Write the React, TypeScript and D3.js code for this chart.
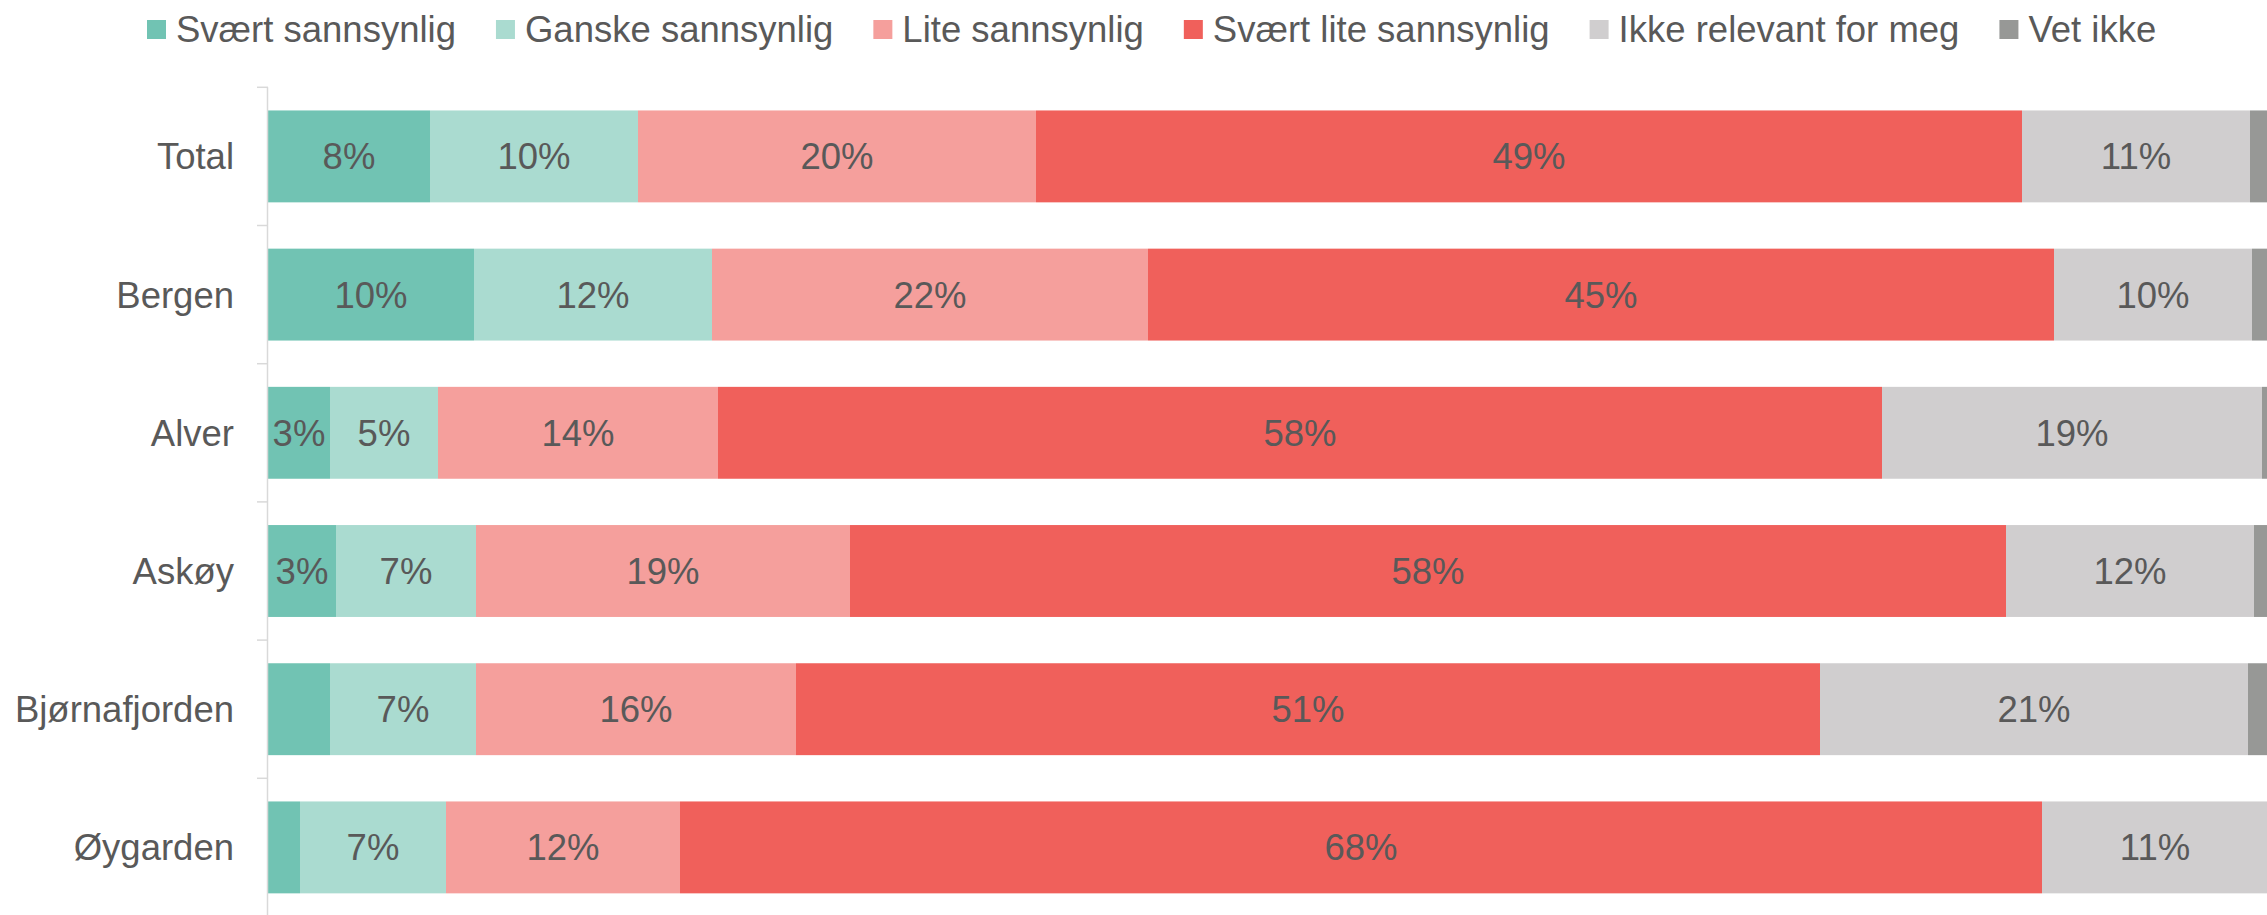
import React, { useEffect, useRef } from "react";
import * as d3 from "d3";

const categories = ["Total", "Bergen", "Alver", "Askøy", "Bjørnafjorden", "Øygarden"];
const seriesNames = [
  "Svært sannsynlig",
  "Ganske sannsynlig",
  "Lite sannsynlig",
  "Svært lite sannsynlig",
  "Ikke relevant for meg",
  "Vet ikke",
];
const seriesColors = ["#71C3B3", "#AADBD0", "#F59F9C", "#F0605B", "#D0CECF", "#979896"];

// values per series, in the order of categories
const sværtSannsynlig = [8.1, 10.3, 3.1, 3.4, 3.1, 1.6];
const ganskeSannsynlig = [10.4, 11.9, 5.4, 7.0, 7.3, 7.3];
const liteSannsynlig = [19.9, 21.8, 14.0, 18.7, 16.0, 11.7];
const sværtLiteSannsynlig = [49.3, 45.3, 58.2, 57.8, 51.2, 68.1];
const ikkeRelevant = [11.4, 9.9, 19.0, 12.4, 21.4, 11.3];
const vetIkke = [0.9, 0.8, 0.3, 0.7, 1.0, 0.0];

// labels hidden in the reference (small segments)
const hiddenLabels = [
  ["Bjørnafjorden", "Svært sannsynlig"],
  ["Øygarden", "Svært sannsynlig"],
];
const unlabelledSeries = ["Vet ikke"];

const xTicks = [0, 100];

export default function App() {
  const ref = useRef<SVGSVGElement | null>(null);

  useEffect(() => {
    const H = 915;
    const svg = d3.select(ref.current);
    svg.selectAll("*").remove();

    const font = "'Liberation Sans', Arial, sans-serif";
    const fs = 36.5;
    const textColor = "#595959";

    const seriesValues = [
      sværtSannsynlig,
      ganskeSannsynlig,
      liteSannsynlig,
      sværtLiteSannsynlig,
      ikkeRelevant,
      vetIkke,
    ];
    const rows = categories.map((c, i) => {
      const r: any = { category: c };
      seriesNames.forEach((s, j) => (r[s] = seriesValues[j][i]));
      return r;
    });
    const stacked = d3.stack<any>().keys(seriesNames)(rows);

    const x = d3.scaleLinear().domain([xTicks[0], xTicks[1]]).range([268, 2268]);
    const y = d3
      .scaleBand<string>()
      .domain(categories)
      .range([87.3, 916.5])
      .paddingInner(0.335)
      .paddingOuter(0.1675);

    // bars
    const g = svg.append("g");
    stacked.forEach((layer, j) => {
      const name = seriesNames[j];
      const lg = g.append("g");
      lg.selectAll("rect")
        .data(layer)
        .join("rect")
        .attr("x", (d: any) => x(d[0]))
        .attr("width", (d: any) => Math.max(0, x(d[1]) - x(d[0])))
        .attr("y", (d: any) => y(d.data.category)!)
        .attr("height", y.bandwidth())
        .attr("fill", seriesColors[j]);

      if (unlabelledSeries.includes(name)) return;
      lg.selectAll("text")
        .data(
          layer.filter(
            (d: any) =>
              d[1] - d[0] > 0 &&
              !hiddenLabels.some((h) => h[0] === d.data.category && h[1] === name)
          )
        )
        .join("text")
        .attr("x", (d: any) => (x(d[0]) + x(d[1])) / 2)
        .attr("y", (d: any) => y(d.data.category)! + y.bandwidth() / 2)
        .attr("dy", "0.355em")
        .attr("text-anchor", "middle")
        .attr("font-family", font)
        .attr("font-size", fs)
        .attr("fill", textColor)
        .text((d: any) => `${Math.round(d[1] - d[0])}%`);
    });

    // axis
    const step = y.step();
    const top = 87.3;
    const ax = svg.append("g");
    ax.append("line")
      .attr("x1", x(0) - 0.5)
      .attr("x2", x(0) - 0.5)
      .attr("y1", top)
      .attr("y2", H)
      .attr("stroke", "#D9D9D9")
      .attr("stroke-width", 1.5);
    categories.forEach((c, i) => {
      const ty = top + i * step;
      ax.append("line")
        .attr("x1", x(0) - 11)
        .attr("x2", x(0))
        .attr("y1", ty)
        .attr("y2", ty)
        .attr("stroke", "#D9D9D9")
        .attr("stroke-width", 1.5);
      ax.append("text")
        .attr("x", 234)
        .attr("y", y(c)! + y.bandwidth() / 2)
        .attr("dy", "0.355em")
        .attr("text-anchor", "end")
        .attr("font-family", font)
        .attr("font-size", fs)
        .attr("fill", textColor)
        .text(c);
    });

    // legend
    const leg = svg.append("g");
    let lx = 147;
    seriesNames.forEach((s, j) => {
      leg.append("rect")
        .attr("x", lx)
        .attr("y", 20)
        .attr("width", 19)
        .attr("height", 19)
        .attr("fill", seriesColors[j]);
      const t = leg
        .append("text")
        .attr("x", lx + 29)
        .attr("y", 29.5)
        .attr("dy", "0.355em")
        .attr("font-family", font)
        .attr("font-size", fs)
        .attr("fill", textColor)
        .text(s);
      const w = (t.node() as SVGTextElement).getComputedTextLength();
      lx = lx + 29 + w + 40;
    });
  }, []);

  return (
    <svg
      ref={ref}
      width={2267}
      height={915}
      style={{ position: "absolute", left: 0, top: 0, background: "#fff" }}
    />
  );
}
